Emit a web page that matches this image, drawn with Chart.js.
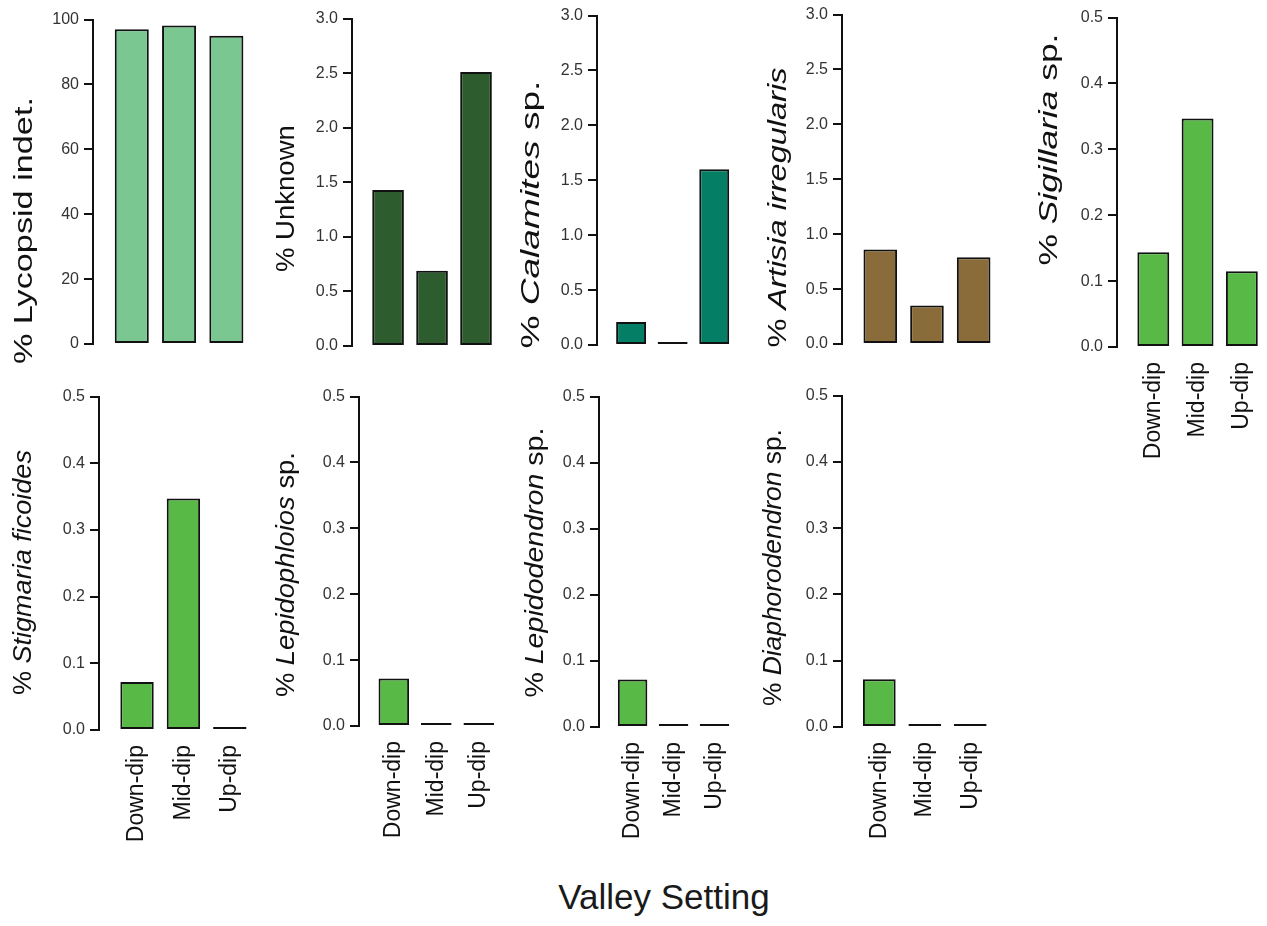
<!DOCTYPE html>
<html>
<head>
<meta charset="utf-8">
<script src="https://cdn.jsdelivr.net/npm/chart.js@4.4.1/dist/chart.umd.min.js"></script>
<style>
  body { margin: 0; background: #fff; }
  #wrap { position: relative; width: 1267px; height: 926px; overflow: hidden; background: #fff; }
  #wrap canvas { position: absolute; }
  #xlabel {
    position: absolute; left: 664px; top: 879px; transform: translateX(-50%);
    font: 35px "Liberation Sans", Arial, sans-serif; line-height: 1; color: #1a1a1a; white-space: nowrap;
  }
</style>
</head>
<body>
<div id="wrap"><div id="xlabel">Valley Setting</div></div>
<script>
// categories on every panel
const categories = ['Down-dip', 'Mid-dip', 'Up-dip'];

// % of specimens per valley setting
const lycopsidIndet = [97.0, 98.2, 95.0];
const unknown = [1.43, 0.69, 2.51];
const calamites = [0.21, 0, 1.60];
const artisia = [0.86, 0.35, 0.79];
const sigillaria = [0.144, 0.347, 0.115];
const stigmaria = [0.072, 0.347, 0];
const lepidophloios = [0.072, 0, 0];
const lepidodendron = [0.072, 0, 0];
const diaphorodendron = [0.072, 0, 0];

// y axis tick labels
const ticksPct = [0, 20, 40, 60, 80, 100];
const ticks3 = [0, 0.5, 1.0, 1.5, 2.0, 2.5, 3.0];
const ticksHalf = [0, 0.1, 0.2, 0.3, 0.4, 0.5];

// axis titles, italic parts marked
const titles = [
  [{ text: '% Lycopsid indet.' }],
  [{ text: '% Unknown' }],
  [{ text: '% ' }, { text: 'Calamites', italic: true }, { text: ' sp.' }],
  [{ text: '% ' }, { text: 'Artisia irregularis', italic: true }],
  [{ text: '% ' }, { text: 'Sigillaria', italic: true }, { text: ' sp.' }],
  [{ text: '% ' }, { text: 'Stigmaria ficoides', italic: true }],
  [{ text: '% ' }, { text: 'Lepidophloios', italic: true }, { text: ' sp.' }],
  [{ text: '% ' }, { text: 'Lepidodendron', italic: true }, { text: ' sp.' }],
  [{ text: '% ' }, { text: 'Diaphorodendron', italic: true }, { text: ' sp.' }]
];

const series = [lycopsidIndet, unknown, calamites, artisia, sigillaria, stigmaria, lepidophloios, lepidodendron, diaphorodendron];
const yTicks = [ticksPct, ticks3, ticks3, ticks3, ticksHalf, ticksHalf, ticksHalf, ticksHalf, ticksHalf];
const decimals = [0, 1, 1, 1, 1, 1, 1, 1, 1];
const colors = ['#7AC792', '#2D5D2E', '#047E64', '#8A6C3B', '#58B947', '#58B947', '#58B947', '#58B947', '#58B947'];
const showCats = [false, false, false, false, true, true, true, true, true];

// page layout of each panel (pixels)
const layout = [
  { axisX: 93, topY: 17, zeroY: 344, plotW: 157, titleX: 25, titleY: 228, titleLen: 267 },
  { axisX: 352, topY: 16, zeroY: 346, plotW: 146, titleX: 287, titleY: 196, titleLen: 147 },
  { axisX: 597, topY: 13, zeroY: 345, plotW: 138, titleX: 532, titleY: 212, titleLen: 268 },
  { axisX: 842, topY: 12, zeroY: 344, plotW: 155, titleX: 779, titleY: 205, titleLen: 280 },
  { axisX: 1117, topY: 15, zeroY: 347, plotW: 147, titleX: 1050, titleY: 147, titleLen: 232 },
  { axisX: 99, topY: 394, zeroY: 730, plotW: 154, titleX: 24, titleY: 570, titleLen: 245 },
  { axisX: 359, topY: 394, zeroY: 726, plotW: 141, titleX: 287, titleY: 572, titleLen: 245 },
  { axisX: 599, topY: 394, zeroY: 727, plotW: 136, titleX: 536, titleY: 560, titleLen: 270 },
  { axisX: 842, topY: 393, zeroY: 727, plotW: 151, titleX: 774, titleY: 565, titleLen: 277 }
];

const FONT = '"Liberation Sans", Arial, sans-serif';
const YW = 95;   // width reserved for y axis
const PT = 12;   // top padding
const PB = 30;   // bottom padding when no category labels
const XH = 125;  // height of category label area
Chart.defaults.font.family = FONT;

// rotated y title with mixed italic parts, stretched to the given length
const axisTitle = {
  id: 'axisTitle',
  afterDraw(chart, args, opts) {
    const { ctx, chartArea } = chart;
    ctx.save();
    ctx.translate(chartArea.left + opts.dx, chartArea.top + opts.dy);
    ctx.rotate(-Math.PI / 2);
    const fonts = opts.parts.map(p => (p.italic ? 'italic ' : '') + opts.size + 'px ' + FONT);
    let total = 0;
    const widths = opts.parts.map((p, i) => {
      ctx.font = fonts[i];
      const w = ctx.measureText(p.text).width;
      total += w;
      return w;
    });
    ctx.scale(opts.length / total, 1);
    ctx.fillStyle = '#111';
    ctx.textBaseline = 'middle';
    ctx.textAlign = 'left';
    let pos = -total / 2;
    opts.parts.forEach((p, i) => {
      ctx.font = fonts[i];
      ctx.fillText(p.text, pos, 0);
      pos += widths[i];
    });
    ctx.restore();
  }
};

const wrap = document.getElementById('wrap');

series.forEach((values, k) => {
  const L = layout[k];
  const ticks = yTicks[k];
  const canvas = document.createElement('canvas');
  const w = YW + L.plotW;
  const h = PT + (L.zeroY - L.topY) + (showCats[k] ? XH : PB);
  canvas.width = w;
  canvas.height = h;
  canvas.style.left = (L.axisX - YW) + 'px';
  canvas.style.top = (L.topY - PT) + 'px';
  canvas.style.width = w + 'px';
  canvas.style.height = h + 'px';
  wrap.appendChild(canvas);

  new Chart(canvas, {
    type: 'bar',
    data: {
      datasets: [{
        data: values.map((v, i) => ({ x: i + 1, y: v })),
        backgroundColor: colors[k],
        borderColor: '#111',
        borderWidth: 2,
        borderSkipped: false,
        minBarLength: 3,
        categoryPercentage: 1,
        barPercentage: 0.72
      }]
    },
    options: {
      responsive: false,
      animation: false,
      devicePixelRatio: 1,
      layout: { padding: { top: PT, left: 0, right: 0, bottom: showCats[k] ? 0 : PB } },
      plugins: {
        legend: { display: false },
        tooltip: { enabled: false },
        axisTitle: {
          parts: titles[k],
          size: 26,
          length: L.titleLen,
          dx: L.titleX - L.axisX,
          dy: L.titleY - L.topY
        }
      },
      scales: {
        x: {
          type: 'linear',
          min: 0.18,
          max: 3.5,
          offset: false,
          display: showCats[k],
          afterFit(s) {
            s.height = showCats[k] ? XH : 0;
            s.paddingLeft = 0;
            s.paddingRight = 0;
          },
          afterBuildTicks(s) { s.ticks = categories.map((c, i) => ({ value: i + 1 })); },
          ticks: {
            autoSkip: false,
            minRotation: 90,
            maxRotation: 90,
            padding: 15,
            color: '#111',
            font: { size: 23 },
            callback: (v, i) => categories[i]
          },
          grid: { display: false, drawTicks: false },
          border: { display: false }
        },
        y: {
          min: 0,
          max: ticks[ticks.length - 1],
          afterFit(s) { s.width = YW; },
          afterBuildTicks(s) { s.ticks = ticks.map(v => ({ value: v })); },
          ticks: {
            color: '#333',
            font: { size: 16 },
            padding: 5,
            callback: v => v.toFixed(decimals[k])
          },
          grid: { drawOnChartArea: false, drawTicks: true, tickLength: 9, color: '#111', lineWidth: 2 },
          border: { display: true, color: '#111', width: 2 }
        }
      }
    },
    plugins: [axisTitle]
  });
});
</script>
</body>
</html>
